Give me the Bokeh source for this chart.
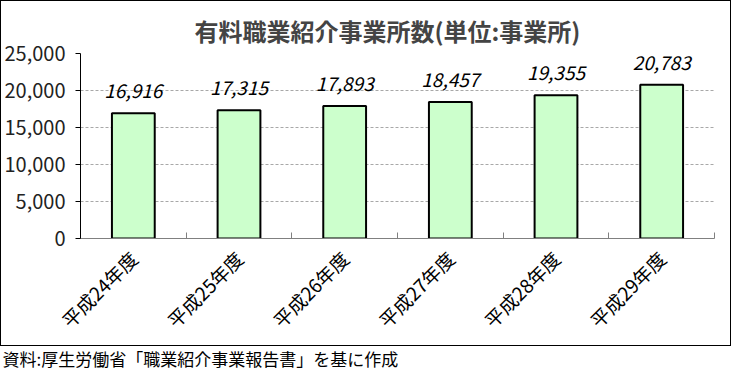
import math
from bokeh.plotting import figure
from bokeh.layouts import column
from bokeh.models import (Range1d, FixedTicker, NumeralTickFormatter, ColumnDataSource)
from bokeh.core.properties import value
from bokeh.embed import file_html
from bokeh.resources import INLINE

# ---- data ----
categories = ["平成24年度", "平成25年度", "平成26年度", "平成27年度", "平成28年度", "平成29年度"]
counts = [16916, 17315, 17893, 18457, 19355, 20783]
y_ticks = [0, 5000, 10000, 15000, 20000, 25000]
title_text = "有料職業紹介事業所数(単位:事業所)"
source_text = "資料:厚生労働省「職業紹介事業報告書」を基に作成"

FONT = "Noto Sans CJK JP"

centers = [i + 0.5 for i in range(len(categories))]
bounds = [i for i in range(len(categories) + 1)]
src = ColumnDataSource(dict(x=centers, top=counts,
                            lbl=[f"{v:,}" for v in counts]))

p = figure(width=729, height=344, output_backend="svg", toolbar_location=None,
           x_range=Range1d(0, len(categories)), y_range=Range1d(0, y_ticks[-1]),
           min_border_left=76, min_border_right=16, min_border_top=52,
           min_border_bottom=98)
p.outline_line_color = None
p.background_fill_color = "white"
p.border_fill_color = "white"

# title
p.title.text = title_text
p.title.align = "left"
p.title.text_font = FONT
p.title.text_font_size = "24px"
p.title.text_font_style = "bold"
p.title.offset = 114
p.title.standoff = 11

# bars
p.vbar(x="x", top="top", width=0.405, source=src, fill_color="#CCFFCC",
       line_color="black", line_width=2)
p.text(x="x", y="top", text="lbl", source=src, text_align="center",
       text_baseline="bottom", y_offset=-15, text_font=value(FONT),
       text_font_size="19px", text_font_style="italic", text_color="black")

# y axis
yax = p.yaxis[0]
yax.ticker = FixedTicker(ticks=y_ticks)
yax.formatter = NumeralTickFormatter(format="0,0")
yax.major_label_text_font = FONT
yax.major_label_text_font_size = "20px"
yax.major_label_text_color = "#222222"
yax.axis_line_color = "black"
yax.major_tick_in = 0
yax.major_tick_out = 5
yax.major_tick_line_color = "black"
yax.minor_tick_line_color = None
yax.major_label_standoff = 10

p.ygrid.ticker = FixedTicker(ticks=y_ticks)
p.ygrid.grid_line_color = "#a8a8a8"
p.ygrid.grid_line_dash = "3 2"
p.ygrid.grid_line_width = 1
p.xgrid.grid_line_color = None

# x axis
xax = p.xaxis[0]
xax.ticker = FixedTicker(ticks=centers, minor_ticks=bounds)
xax.major_label_overrides = {c: cat for c, cat in zip(centers, categories)}
xax.major_label_orientation = math.pi / 4
xax.major_label_text_font = FONT
xax.major_label_text_font_size = "19px"
xax.major_label_text_color = "black"
xax.major_label_standoff = 16
xax.axis_line_color = "#808080"
xax.major_tick_in = 0
xax.major_tick_out = 0
xax.minor_tick_in = 6
xax.minor_tick_out = 0
xax.minor_tick_line_color = "#808080"

boxed = column(p, spacing=0, styles={"border": "1px solid black"})

# footnote strip
f = figure(width=731, height=24, output_backend="svg", toolbar_location=None,
           x_range=Range1d(0, 731), y_range=Range1d(0, 24),
           x_axis_location=None, y_axis_location=None,
           min_border=0)
f.grid.grid_line_color = None
f.outline_line_color = None
f.text(x=[2], y=[12], text=[source_text], text_align="left",
       text_baseline="middle", text_font=value(FONT), text_font_size="17px",
       text_color="black")

layout = column(boxed, f, spacing=0)
open("out.html", "w").write(file_html(layout, INLINE))
